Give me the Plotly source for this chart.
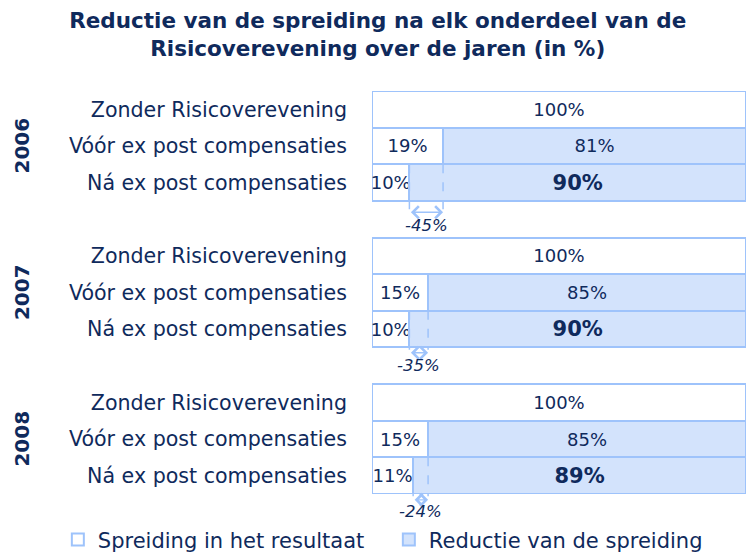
import plotly.graph_objects as go

title_lines = ["Reductie van de spreiding na elk onderdeel van de", "Risicoverevening over de jaren (in %)"]
years = ["2006", "2007", "2008"]
row_labels = ["Zonder Risicoverevening", "Vóór ex post compensaties", "Ná ex post compensaties"]
# values per year, per row
spreiding = [[100, 19, 10], [100, 15, 10], [100, 15, 11]]
reductie = [[0, 81, 90], [0, 85, 90], [0, 85, 89]]
change_labels = ["-45%", "-35%", "-24%"]
legend_names = ["Spreiding in het resultaat", "Reductie van de spreiding"]

# layout offsets (in row units below the "Ná" row centre) for the change markers
arrow_off = [0.81, 0.645, 0.66]
label_off = [1.18, 1.0, 0.99]
dash_end = [0.9, 0.56, 0.56]

NAVY = "#0f2a5c"
EDGE = "#9ec3fb"
FILL = "#d3e3fc"
FONT = "DejaVu Sans"

Y_RANGE = [10.5, -0.5]

def y_to_paper(v):
    return (Y_RANGE[0] - v) / (Y_RANGE[0] - Y_RANGE[1])

ys, sp, rd, sp_text, rd_text, ticktext = [], [], [], [], [], []
for g, yr in enumerate(years):
    for r, lab in enumerate(row_labels):
        pos = g * 4 + r
        ys.append(pos)
        ticktext.append(lab)
        s = spreiding[g][r]
        d = reductie[g][r]
        sp.append(s)
        rd.append(d)
        sp_text.append(f"{s}%")
        if d == 0:
            rd_text.append("")
        elif r == 2:
            rd_text.append(f"<b>{d}%</b>")
        else:
            rd_text.append(f"{d}%")

rd_sizes = [21 if t.startswith("<b>") else 18 for t in rd_text]

fig = go.Figure()
fig.add_trace(go.Bar(
    y=ys, x=sp, orientation="h", name=legend_names[0],
    marker=dict(color="white", line=dict(color=EDGE, width=2)),
    text=sp_text, textposition="inside", insidetextanchor="middle",
    constraintext="none", textangle=0, cliponaxis=False,
    textfont=dict(color=NAVY, size=18, family=FONT), width=1,
))
fig.add_trace(go.Bar(
    y=ys, x=rd, orientation="h", name=legend_names[1],
    marker=dict(color=FILL, line=dict(color=EDGE, width=2)),
    text=rd_text, textposition="inside", insidetextanchor="middle",
    constraintext="none", textangle=0, cliponaxis=False,
    textfont=dict(color=NAVY, size=rd_sizes, family=FONT), width=1,
))

shapes = []
annotations = []
for g, yr in enumerate(years):
    ny = g * 4 + 2
    x_na = spreiding[g][2]
    x_voor = spreiding[g][1]
    for xv in (x_na, x_voor):
        shapes.append(dict(type="line", xref="x", yref="paper", x0=xv, x1=xv,
                           y0=y_to_paper(ny - 0.5), y1=y_to_paper(ny + dash_end[g]),
                           line=dict(color=EDGE, width=1.5, dash="dash")))
    annotations.append(dict(xref="x", yref="paper", axref="x", ayref="pixel",
                            x=x_voor, y=y_to_paper(ny + arrow_off[g]), ax=x_na, ay=0,
                            showarrow=True, arrowhead=4, arrowside="end+start",
                            arrowsize=1.8, arrowwidth=1.3, arrowcolor=EDGE, text=""))
    annotations.append(dict(xref="x", yref="paper", x=(x_na + x_voor) / 2,
                            y=y_to_paper(ny + label_off[g]), yanchor="middle",
                            text=f"<i>{change_labels[g]}</i>", showarrow=False,
                            font=dict(color=NAVY, size=16.5, family=FONT)))
    annotations.append(dict(xref="paper", yref="y", x=-0.937, y=g * 4 + 1,
                            xanchor="center", yanchor="middle",
                            text=f"<b>{yr}</b>", showarrow=False, textangle=-90,
                            font=dict(color=NAVY, size=20, family=FONT)))

fig.update_layout(
    barmode="stack",
    width=748, height=552,
    margin=dict(l=372, r=2, t=91, b=58, autoexpand=False),
    paper_bgcolor="white", plot_bgcolor="white",
    title=dict(text="<br>".join(title_lines), x=0.505, xref="container", xanchor="center",
               y=0.95, yanchor="top",
               font=dict(color=NAVY, size=21.5, family=FONT, weight="bold")),
    xaxis=dict(range=[0, 100], visible=False),
    yaxis=dict(range=Y_RANGE, tickvals=ys, ticktext=ticktext, showgrid=False,
               zeroline=False, showline=False, ticks="", ticklabelstandoff=24,
               tickfont=dict(color=NAVY, size=20.6, family=FONT)),
    showlegend=True,
    legend=dict(orientation="h", x=-0.84, y=-0.114, xanchor="left", yanchor="middle",
                font=dict(color=NAVY, size=21, family=FONT), traceorder="normal",
                itemwidth=30, entrywidth=286),
    shapes=shapes, annotations=annotations,
    font=dict(family=FONT, color=NAVY),
)

fig.write_html("out.html", post_script="document.body.style.margin='0';",
               config={"displayModeBar": False})
